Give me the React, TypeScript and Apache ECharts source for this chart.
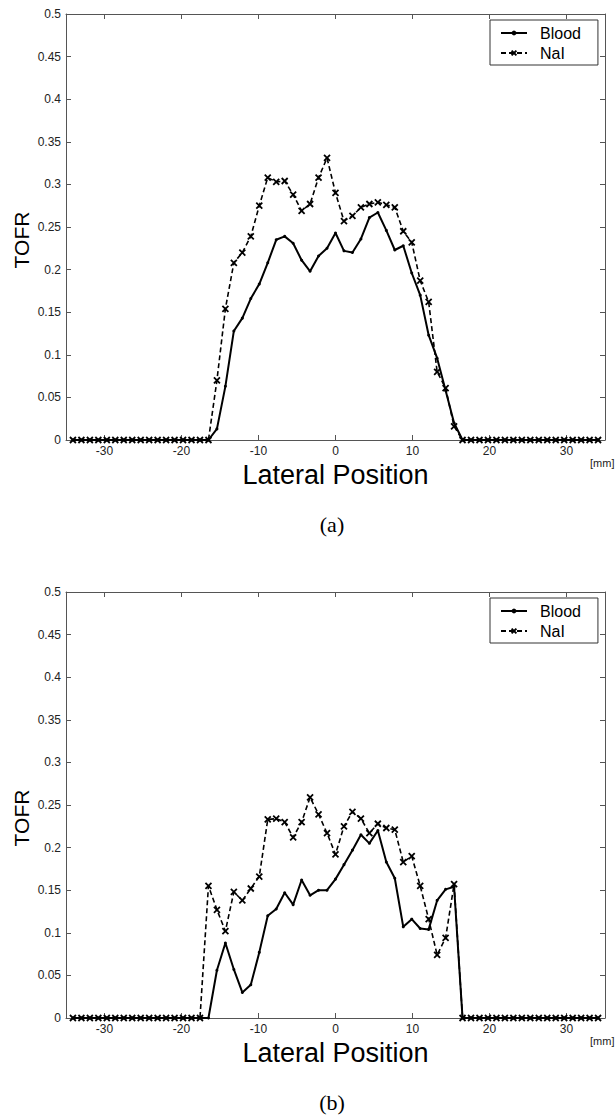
import React, { useEffect, useRef } from "react";
import * as echarts from "echarts";

// Lateral positions in mm (detector channel centres)
const positions = [
  -34.1, -33.0, -31.9, -30.8, -29.7, -28.6, -27.5, -26.4, -25.3, -24.2, -23.1,
  -22.0, -20.9, -19.8, -18.7, -17.6, -16.5, -15.4, -14.3, -13.2, -12.1, -11.0,
  -9.9, -8.8, -7.7, -6.6, -5.5, -4.4, -3.3, -2.2, -1.1, 0.0, 1.1, 2.2, 3.3,
  4.4, 5.5, 6.6, 7.7, 8.8, 9.9, 11.0, 12.1, 13.2, 14.3, 15.4, 16.5, 17.6, 18.7,
  19.8, 20.9, 22.0, 23.1, 24.2, 25.3, 26.4, 27.5, 28.6, 29.7, 30.8, 31.9, 33.0,
  34.1,
];

// (a)
const bloodA = [
  0, 0, 0, 0, 0, 0, 0, 0, 0, 0, 0, 0, 0, 0, 0, 0, 0,
  0.013, 0.063, 0.128, 0.143, 0.166, 0.183, 0.208, 0.235, 0.239, 0.231, 0.211,
  0.198, 0.216, 0.225, 0.243, 0.222, 0.22, 0.236, 0.261, 0.267, 0.246, 0.223,
  0.228, 0.196, 0.17, 0.123, 0.096, 0.058, 0.02,
  0, 0, 0, 0, 0, 0, 0, 0, 0, 0, 0, 0, 0, 0, 0, 0, 0,
];
const naiA = [
  0, 0, 0, 0, 0, 0, 0, 0, 0, 0, 0, 0, 0, 0, 0, 0, 0,
  0.07, 0.154, 0.208, 0.22, 0.239, 0.275, 0.308, 0.303, 0.304, 0.288, 0.269,
  0.277, 0.308, 0.331, 0.29, 0.257, 0.263, 0.273, 0.277, 0.279, 0.276, 0.273,
  0.245, 0.232, 0.187, 0.162, 0.08, 0.061, 0.016,
  0, 0, 0, 0, 0, 0, 0, 0, 0, 0, 0, 0, 0, 0, 0, 0, 0,
];

// (b)
const bloodB = [
  0, 0, 0, 0, 0, 0, 0, 0, 0, 0, 0, 0, 0, 0, 0, 0, 0,
  0.056, 0.088, 0.057, 0.03, 0.039, 0.077, 0.12, 0.128, 0.147, 0.133, 0.162,
  0.144, 0.15, 0.15, 0.163, 0.18, 0.197, 0.215, 0.205, 0.22, 0.183, 0.164,
  0.107, 0.116, 0.105, 0.104, 0.138, 0.151, 0.154,
  0, 0, 0, 0, 0, 0, 0, 0, 0, 0, 0, 0, 0, 0, 0, 0, 0,
];
const naiB = [
  0, 0, 0, 0, 0, 0, 0, 0, 0, 0, 0, 0, 0, 0, 0, 0,
  0.155, 0.127, 0.102, 0.148, 0.138, 0.152, 0.166, 0.233, 0.234, 0.23, 0.212,
  0.23, 0.259, 0.239, 0.217, 0.192, 0.225, 0.242, 0.234, 0.217, 0.228, 0.223,
  0.221, 0.183, 0.19, 0.155, 0.116, 0.074, 0.094, 0.157,
  0, 0, 0, 0, 0, 0, 0, 0, 0, 0, 0, 0, 0, 0, 0, 0, 0,
];

const seriesNames = ["Blood", "NaI"];
const panelLabels = ["(a)", "(b)"];
const xTitle = "Lateral Position";
const yTitle = "TOFR";
const unitLabel = "[mm]";

const FONT = "Liberation Sans, Arial, sans-serif";
const AXIS_COLOR = "#555";
const CROSS = "path://M0 0L10 10M10 0L0 10";

export default function App() {
  const ref = useRef<HTMLDivElement>(null);

  useEffect(() => {
    if (!ref.current) return;
    const chart = echarts.init(ref.current, undefined, { renderer: "svg" });

    const tops = [14, 592];
    const gridH = 426;
    const left = 66;
    const right = 11;

    const grids = tops.map((t) => ({ left, right, top: t, height: gridH, show: false }));

    const lineCfg = { show: true, onZero: false, lineStyle: { color: AXIS_COLOR, width: 1 } };
    const tickCfg = { show: true, inside: true, length: 5, lineStyle: { color: AXIS_COLOR } };

    const xAxes: any[] = [];
    const yAxes: any[] = [];
    tops.forEach((_, gi) => {
      xAxes.push({
        type: "value",
        gridIndex: gi,
        min: -35,
        max: 35,
        splitNumber: 7,
        position: "bottom",
        name: xTitle,
        nameLocation: "middle",
        nameGap: 21,
        nameTextStyle: { fontSize: 27, color: "#000", fontFamily: FONT },
        axisLine: lineCfg,
        axisTick: tickCfg,
        axisLabel: {
          show: true,
          showMinLabel: false,
          showMaxLabel: false,
          fontSize: 12,
          color: "#222",
          fontFamily: FONT,
          margin: 5,
        },
        splitLine: { show: false },
      });
      xAxes.push({
        type: "value",
        gridIndex: gi,
        min: -35,
        max: 35,
        splitNumber: 7,
        position: "top",
        axisLine: lineCfg,
        axisTick: tickCfg,
        axisLabel: { show: false },
        splitLine: { show: false },
      });
      yAxes.push({
        type: "value",
        gridIndex: gi,
        min: 0,
        max: 0.5,
        interval: 0.05,
        position: "left",
        axisLine: lineCfg,
        axisTick: tickCfg,
        axisLabel: { fontSize: 12, color: "#222", fontFamily: FONT, margin: 5 },
        splitLine: { show: false },
      });
      yAxes.push({
        type: "value",
        gridIndex: gi,
        min: 0,
        max: 0.5,
        interval: 0.05,
        position: "right",
        axisLine: lineCfg,
        axisTick: tickCfg,
        axisLabel: { show: false },
        splitLine: { show: false },
      });
    });

    const toPts = (vals: number[]) => positions.map((x, i) => [x, vals[i]]);

    const makeBlood = (vals: number[], gi: number) => ({
      name: seriesNames[0],
      type: "line",
      xAxisIndex: gi * 2,
      yAxisIndex: gi * 2,
      data: toPts(vals),
      symbol: "circle",
      symbolSize: 3,
      showSymbol: true,
      lineStyle: { color: "#000", width: 2, type: "solid" },
      itemStyle: { color: "#000" },
      z: 3,
    });
    const makeNai = (vals: number[], gi: number) => ({
      name: seriesNames[1],
      type: "line",
      xAxisIndex: gi * 2,
      yAxisIndex: gi * 2,
      data: toPts(vals),
      symbol: CROSS,
      symbolSize: 6,
      showSymbol: true,
      lineStyle: { color: "#000", width: 1.6, type: [5, 3] },
      itemStyle: { color: "#000", borderColor: "#000", borderWidth: 1.8 },
      z: 4,
    });

    const legends = tops.map((t) => ({
      left: 490,
      top: t + 6,
      orient: "vertical",
      data: seriesNames,
      selectedMode: false,
      backgroundColor: "#fff",
      borderColor: "#333",
      borderWidth: 1,
      borderRadius: 0,
      padding: [4, 17, 3, 10],
      itemWidth: 26,
      itemHeight: 6,
      itemGap: 2,
      textStyle: {
        fontSize: 16,
        lineHeight: 18,
        color: "#000",
        fontFamily: FONT,
        padding: [0, 0, 0, 8],
      },
    }));

    const graphics: any[] = [];
    tops.forEach((t, gi) => {
      graphics.push({
        type: "text",
        left: 590,
        top: t + gridH + 17,
        style: { text: unitLabel, fontSize: 11, fill: "#222", fontFamily: FONT },
      });
      graphics.push({
        type: "text",
        x: 21,
        y: t + 226,
        rotation: Math.PI / 2,
        style: {
          text: yTitle,
          fontSize: 21,
          fill: "#000",
          fontFamily: FONT,
          align: "center",
          verticalAlign: "middle",
        },
      });
      graphics.push({
        type: "text",
        x: 332,
        y: t + gridH + 84,
        style: {
          text: panelLabels[gi],
          fontSize: 22,
          fill: "#000",
          fontFamily: "Liberation Serif, DejaVu Serif, serif",
          align: "center",
          verticalAlign: "middle",
        },
      });
    });

    chart.setOption({
      animation: false,
      backgroundColor: "#fff",
      grid: grids,
      xAxis: xAxes,
      yAxis: yAxes,
      legend: legends,
      series: [
        makeBlood(bloodA, 0),
        makeNai(naiA, 0),
        makeBlood(bloodB, 1),
        makeNai(naiB, 1),
      ],
      graphic: graphics,
    });

    return () => chart.dispose();
  }, []);

  return (
    <div
      ref={ref}
      style={{ position: "absolute", left: 0, top: 0, width: 616, height: 1118 }}
    />
  );
}
